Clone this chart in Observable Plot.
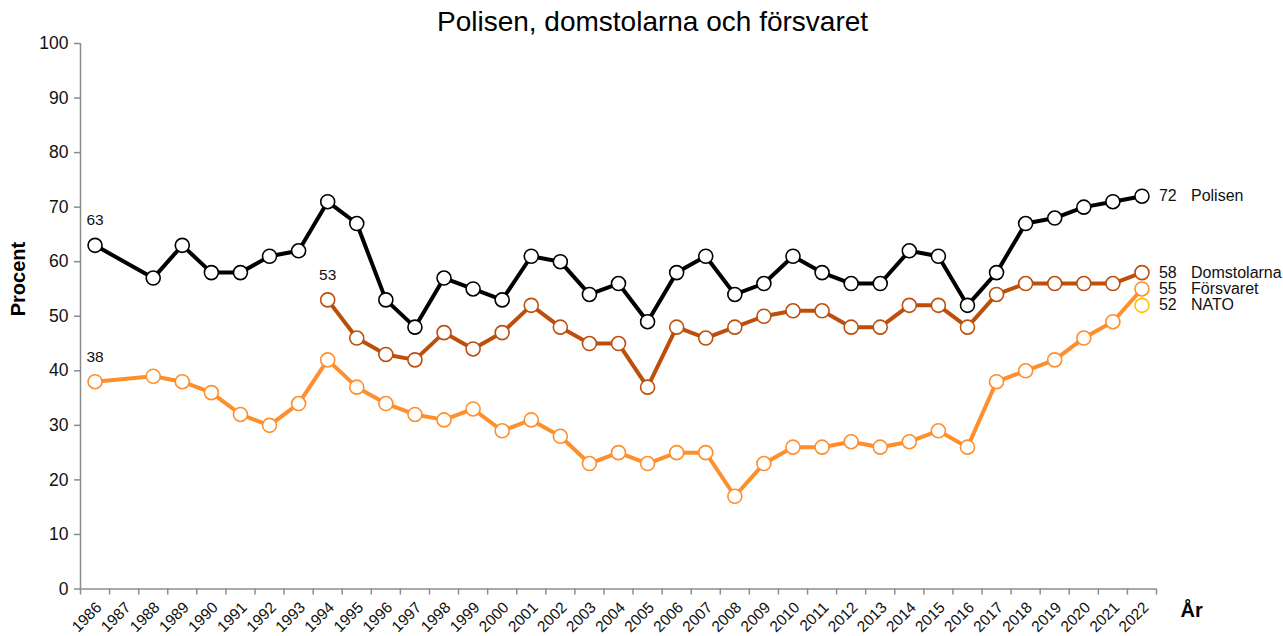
<!DOCTYPE html>
<html>
<head>
<meta charset="utf-8">
<script src="https://cdn.jsdelivr.net/npm/d3@7"></script>
<script src="https://cdn.jsdelivr.net/npm/@observablehq/plot@0.6"></script>
<style>
  html, body { margin: 0; padding: 0; background: #fff; }
  #chart { width: 1283px; height: 636px; }
</style>
</head>
<body>
<div id="chart"></div>
<script>
const allYears = d3.range(1986, 2023);
const mainYears = [1986, ...d3.range(1988, 2023)];
const domYears = d3.range(1994, 2023);

const polisen = [63,57,63,58,58,61,62,71,67,53,48,57,55,53,61,60,54,56,49,58,61,54,56,61,58,56,56,62,61,52,58,67,68,70,71,72];
const forsvaret = [38,39,38,36,32,30,34,42,37,34,32,31,33,29,31,28,23,25,23,25,25,17,23,26,26,27,26,27,29,26,38,40,42,46,49,55];
const domstolarna = [53,46,43,42,47,44,47,52,48,45,45,37,48,46,48,50,51,51,48,48,52,52,48,54,56,56,56,56,58];
const natoYears = [2022];
const nato = [52];

const seriesNames = ["Polisen", "Domstolarna", "Försvaret", "NATO"];
const seriesColors = ["#000000", "#BC4F0C", "#FF8F2C", "#FFC000"];
const endValues = [72, 58, 55, 52];

const startLabels = [
  {year: 1986, value: 63},
  {year: 1986, value: 38},
  {year: 1994, value: 53}
];

const yTicks = d3.range(0, 101, 10);
const title = "Polisen, domstolarna och försvaret";

const toRows = (years, values, name) => years.map((y, i) => ({year: y, value: values[i], series: name}));
const rowsPol = toRows(mainYears, polisen, "Polisen");
const rowsDom = toRows(domYears, domstolarna, "Domstolarna");
const rowsFor = toRows(mainYears, forsvaret, "Försvaret");
const rowsNato = toRows(natoYears, nato, "NATO");
const endRows = seriesNames.map((n, i) => ({name: n, value: endValues[i], year: 2022}));
const col = Object.fromEntries(seriesNames.map((n, i) => [n, seriesColors[i]]));

const font = "'Liberation Sans', Arial, sans-serif";
const axisGray = "#8c8c8c";

const chart = Plot.plot({
  width: 1283,
  height: 636,
  marginLeft: 80,
  marginRight: 127,
  marginTop: 43,
  marginBottom: 47.5,
  style: {fontFamily: font, background: "#fff", color: "#111"},
  x: {domain: [1985.5, 2022.5], axis: null},
  y: {domain: [0, 100], axis: null},
  marks: [
    // axes
    Plot.axisY({ticks: yTicks, tickSize: 6, tickPadding: 6, fontSize: 17.5, stroke: axisGray, strokeWidth: 1.5, fill: "#111", label: null, tickFormat: d => String(d)}),
    Plot.axisX({ticks: d3.range(1985.5, 2023, 1), tickSize: 6, stroke: axisGray, strokeWidth: 1.5, tickFormat: () => "", label: null}),
    Plot.text(allYears, {x: d => d, frameAnchor: "bottom", rotate: -45, textAnchor: "end", lineAnchor: "middle", dx: 4, dy: 16, fontSize: 15.5, fill: "#111", text: d => String(d)}),
    Plot.ruleX([1985.5], {y1: 0, y2: 100, stroke: axisGray, strokeWidth: 1.5}),
    Plot.ruleY([0], {x1: 1985.5, x2: 2022.5, stroke: axisGray, strokeWidth: 1.5}),
    // lines
    Plot.line(rowsFor, {x: "year", y: "value", stroke: col["Försvaret"], strokeWidth: 4}),
    Plot.line(rowsDom, {x: "year", y: "value", stroke: col["Domstolarna"], strokeWidth: 4}),
    Plot.line(rowsPol, {x: "year", y: "value", stroke: col["Polisen"], strokeWidth: 4}),
    Plot.dot(rowsPol, {x: "year", y: "value", r: 7, fill: "#fff", stroke: col["Polisen"], strokeWidth: 1.6}),
    Plot.dot(rowsDom, {x: "year", y: "value", r: 7, fill: "#fff", stroke: col["Domstolarna"], strokeWidth: 1.6}),
    Plot.dot(rowsFor, {x: "year", y: "value", r: 7, fill: "#fff", stroke: col["Försvaret"], strokeWidth: 1.6}),
    Plot.dot(rowsNato, {x: "year", y: "value", r: 7, fill: "#fff", stroke: col["NATO"], strokeWidth: 1.6}),
    // start labels
    Plot.text(startLabels, {x: "year", y: "value", text: d => String(d.value), dy: -25, fontSize: 15.5, fill: "#111"}),
    // end labels
    Plot.text(endRows, {x: "year", y: "value", text: d => String(d.value), dx: 17, textAnchor: "start", fontSize: 16, fill: "#111"}),
    Plot.text(endRows, {x: "year", y: "value", text: "name", dx: 49, textAnchor: "start", fontSize: 16, fill: "#111"}),
    // titles
    Plot.text([title], {frameAnchor: "top", lineAnchor: "middle", dx: 34, dy: -21, fontSize: 28, fill: "#000"}),
    Plot.text(["Procent"], {frameAnchor: "left", lineAnchor: "middle", dx: -62, rotate: -90, fontSize: 20, fontWeight: "bold", fill: "#000"}),
    Plot.text(["År"], {frameAnchor: "bottom-right", lineAnchor: "middle", dx: 24, dy: 22, textAnchor: "start", fontSize: 20, fontWeight: "bold", fill: "#000"})
  ]
});
document.getElementById("chart").appendChild(chart);
</script>
</body>
</html>
